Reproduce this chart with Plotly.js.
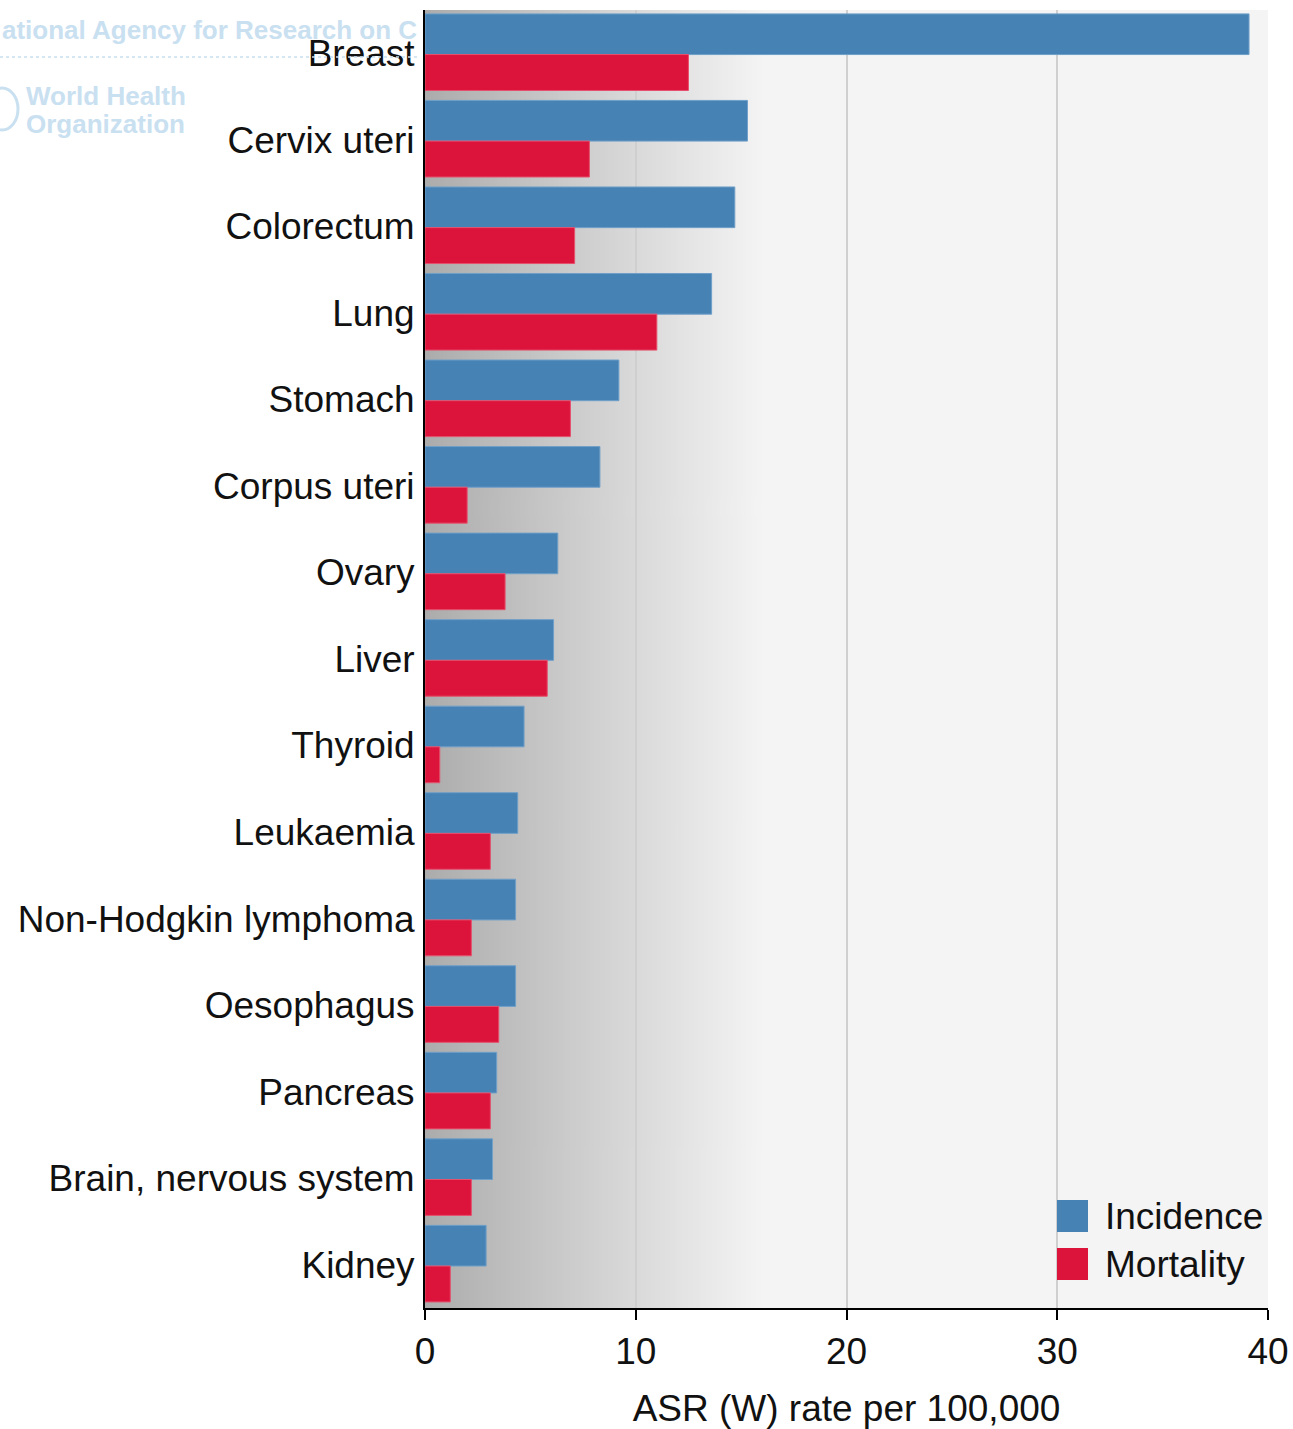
<!DOCTYPE html>
<html>
<head>
<meta charset="utf-8">
<script src="https://cdn.plot.ly/plotly-3.0.1.min.js"></script>
<style>html,body{margin:0;padding:0;background:#fff;}#chart{width:1293px;height:1429px;}</style>
</head>
<body>
<div id="chart"></div>
<script>
// ---- data ----
const categories = ["Breast","Cervix uteri","Colorectum","Lung","Stomach","Corpus uteri","Ovary","Liver","Thyroid","Leukaemia","Non-Hodgkin lymphoma","Oesophagus","Pancreas","Brain, nervous system","Kidney"];
const incidence = [39.1, 15.3, 14.7, 13.6, 9.2, 8.3, 6.3, 6.1, 4.7, 4.4, 4.3, 4.3, 3.4, 3.2, 2.9];
const mortality = [12.5, 7.8, 7.1, 11.0, 6.9, 2.0, 3.8, 5.8, 0.7, 3.1, 2.2, 3.5, 3.1, 2.2, 1.2];
const seriesNames = ["Incidence", "Mortality"];
const xTicks = [0, 10, 20, 30, 40];
const xTitle = "ASR (W) rate per 100,000";
const watermarkTop = "ational Agency for Research on C";
const watermarkWho = ["World Health", "Organization"];

// ---- styles ----
const BLUE = "#4682b4", RED = "#dc143c", WM = "#c9e0f1";
const FONT = "Liberation Sans, Arial, sans-serif";
const FS = 37;

// background gradient image (styling only)
const cv = document.createElement("canvas");
cv.width = 400; cv.height = 4;
const ctx = cv.getContext("2d");
const g = ctx.createLinearGradient(0, 0, 400, 0);
g.addColorStop(0, "#acacac");
g.addColorStop(0.45, "#cdcdcd");
g.addColorStop(0.8, "#e6e6e6");
g.addColorStop(1, "#f4f4f4");
ctx.fillStyle = g; ctx.fillRect(0, 0, 400, 4);
const gradURL = cv.toDataURL("image/png");

const traces = [
  {type: "bar", orientation: "h", name: seriesNames[0], y: categories, x: incidence,
   marker: {color: BLUE, line: {color: "#6f9fc8", width: 1}}, width: 0.47, offset: -0.455, showlegend: false, hoverinfo: "x+y+name"},
  {type: "bar", orientation: "h", name: seriesNames[1], y: categories, x: mortality,
   marker: {color: RED, line: {color: "#e5506c", width: 1}}, width: 0.415, offset: 0.015, showlegend: false, hoverinfo: "x+y+name"}
];

// plot area geometry (px) for paper conversions
const L = 425, R = 1268, T = 10, B = 1308;
const W = R - L, H = B - T;
const px = v => (v - L) / W;
const py = v => (B - v) / H;

const shapes = [
  // legend swatches
  {type: "rect", xref: "paper", yref: "paper", x0: px(1057), x1: px(1088), y0: py(1232), y1: py(1200), fillcolor: BLUE, line: {width: 0}},
  {type: "rect", xref: "paper", yref: "paper", x0: px(1057), x1: px(1088), y0: py(1280), y1: py(1248), fillcolor: RED, line: {width: 0}},
  // watermark dotted rule
  {type: "line", xref: "paper", yref: "paper", x0: px(0), x1: px(418), y0: py(57), y1: py(57), line: {color: WM, width: 1.5, dash: "dot"}},
  // watermark globe
  {type: "circle", xref: "paper", yref: "paper", x0: px(-14), x1: px(18), y0: py(130), y1: py(88), line: {color: WM, width: 3}, fillcolor: "rgba(0,0,0,0)"}
];

const annotations = [
  {xref: "paper", yref: "paper", x: px(1103), y: py(1216), xanchor: "left", yanchor: "middle", text: seriesNames[0], showarrow: false, font: {family: FONT, size: FS, color: "#111"}},
  {xref: "paper", yref: "paper", x: px(1103), y: py(1264), xanchor: "left", yanchor: "middle", text: seriesNames[1], showarrow: false, font: {family: FONT, size: FS, color: "#111"}},
  {xref: "paper", yref: "paper", x: px(0), y: py(30), xanchor: "left", yanchor: "middle", text: watermarkTop, showarrow: false, font: {family: FONT, size: 26, color: WM, weight: "bold"}},
  {xref: "paper", yref: "paper", x: px(24), y: py(96), xanchor: "left", yanchor: "middle", text: watermarkWho[0], showarrow: false, font: {family: FONT, size: 26, color: WM, weight: "bold"}},
  {xref: "paper", yref: "paper", x: px(24), y: py(124), xanchor: "left", yanchor: "middle", text: watermarkWho[1], showarrow: false, font: {family: FONT, size: 26, color: WM, weight: "bold"}}
];

const layout = {
  width: 1293, height: 1429,
  margin: {l: L, r: 1293 - R, t: T, b: 1429 - B, pad: 0},
  paper_bgcolor: "#ffffff",
  plot_bgcolor: "#f4f4f4",
  barmode: "overlay",
  showlegend: false,
  font: {family: FONT, size: FS, color: "#111"},
  xaxis: {
    range: [0, 40], tickvals: xTicks, ticktext: xTicks.map(String),
    showgrid: true, gridcolor: "#cfcfcf", gridwidth: 2, zeroline: false,
    showline: true, linecolor: "#000", linewidth: 2,
    ticks: "outside", ticklen: 10, tickwidth: 2, tickcolor: "#000",
    tickfont: {family: FONT, size: FS, color: "#111"},
    title: {text: xTitle, font: {family: FONT, size: FS, color: "#111"}, standoff: 26},
    fixedrange: true
  },
  yaxis: {
    type: "category", autorange: "reversed", categoryorder: "array", categoryarray: categories,
    showgrid: false, zeroline: false,
    showline: true, linecolor: "#000", linewidth: 2,
    ticks: "", ticklabelstandoff: 1,
    tickfont: {family: FONT, size: FS, color: "#111"},
    fixedrange: true
  },
  images: [{source: gradURL, xref: "x", yref: "paper", x: 0, y: 1, sizex: 16, sizey: 1, sizing: "stretch", layer: "below", xanchor: "left", yanchor: "top"}],
  shapes: shapes,
  annotations: annotations
};

Plotly.newPlot("chart", traces, layout, {displayModeBar: false, staticPlot: true});
</script>
</body>
</html>
